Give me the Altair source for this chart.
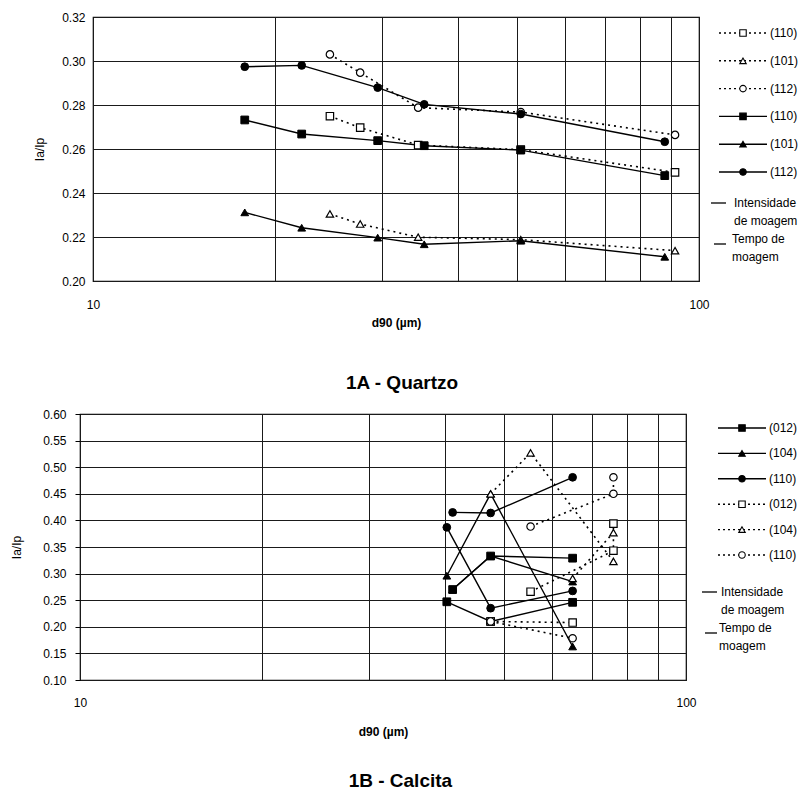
import altair as alt
import pandas as pd

# ---------------- 1A - Quartzo ----------------
hkl_quartzo = ["(110)", "(101)", "(112)"]

# Intensidade de moagem (linhas cheias)
d90_quartzo_int = [17.8, 22.1, 29.5, 35.2, 50.8, 87.8]
quartzo_int_110 = [0.2732, 0.2668, 0.2638, 0.2615, 0.2595, 0.2479]
quartzo_int_101 = [0.2312, 0.2242, 0.2197, 0.2167, 0.2183, 0.2110]
quartzo_int_112 = [0.2974, 0.2980, 0.2879, 0.2803, 0.2759, 0.2633]

# Tempo de moagem (linhas pontilhadas)
d90_quartzo_tempo = [24.6, 27.6, 34.4, 50.8, 91.3]
quartzo_tempo_110 = [0.2749, 0.2697, 0.2618, 0.2597, 0.2494]
quartzo_tempo_101 = [0.2305, 0.2259, 0.2199, 0.2188, 0.2138]
quartzo_tempo_112 = [0.3030, 0.2947, 0.2788, 0.2768, 0.2664]

ticks_y_quartzo = [0.20, 0.22, 0.24, 0.26, 0.28, 0.30, 0.32]

# ---------------- 1B - Calcita ----------------
hkl_calcita = ["(012)", "(104)", "(110)"]

calcita_int_012_a_d90 = [41.2, 47.6, 65.0]
calcita_int_012_a = [0.270, 0.333, 0.329]
calcita_int_012_b_d90 = [40.3, 47.6, 65.0]
calcita_int_012_b = [0.247, 0.210, 0.246]
calcita_int_104_a_d90 = [40.3, 47.6, 65.0]
calcita_int_104_a = [0.296, 0.450, 0.163]
calcita_int_104_b_d90 = [41.2, 47.6, 65.0]
calcita_int_104_b = [0.270, 0.333, 0.285]
calcita_int_110_a_d90 = [41.2, 47.6, 65.0]
calcita_int_110_a = [0.415, 0.414, 0.481]
calcita_int_110_b_d90 = [40.3, 47.6, 65.0]
calcita_int_110_b = [0.387, 0.235, 0.2675]

calcita_tempo_012_a_d90 = [47.6, 65.0]
calcita_tempo_012_a = [0.210, 0.208]
calcita_tempo_012_b_d90 = [55.4, 75.9, 75.9]
calcita_tempo_012_b = [0.266, 0.343, 0.394]
calcita_tempo_104_a_d90 = [47.6, 55.4, 75.9]
calcita_tempo_104_a = [0.450, 0.527, 0.323]
calcita_tempo_104_b_d90 = [65.0, 75.9]
calcita_tempo_104_b = [0.291, 0.377]
calcita_tempo_110_a_d90 = [55.4, 75.9, 75.9]
calcita_tempo_110_a = [0.3885, 0.450, 0.481]
calcita_tempo_110_b_d90 = [47.6, 65.0]
calcita_tempo_110_b = [0.210, 0.1785]

ticks_y_calcita = [0.10, 0.15, 0.20, 0.25, 0.30, 0.35, 0.40, 0.45, 0.50, 0.55, 0.60]
ticks_x = [10, 20, 30, 40, 50, 60, 70, 80, 90, 100]

# Legendas
legenda_quartzo_rotulos = ["(110)", "(101)", "(112)", "(110)", "(101)", "(112)"]
legenda_quartzo_tipos = ["tempo", "tempo", "tempo", "int", "int", "int"]
legenda_calcita_rotulos = ["(012)", "(104)", "(110)", "(012)", "(104)", "(110)"]
legenda_calcita_tipos = ["int", "int", "int", "tempo", "tempo", "tempo"]
nota_intensidade = "Intensidade\nde moagem"
nota_tempo = "Tempo de\nmoagem"

FONTE = "Liberation Sans"
FORMAS = ["square", "triangle-up", "circle"]


def serie(nome, hkl, forma, tipo, xs, ys):
    return [
        {"serie": nome, "hkl": hkl, "forma": forma, "tipo": tipo, "ordem": i,
         "d90": x, "razao": y}
        for i, (x, y) in enumerate(zip(xs, ys))
    ]


def tabela(hkl_dom, tipo, *series):
    linhas = []
    for nome, hkl, xs, ys in series:
        linhas += serie(nome, hkl, FORMAS[hkl_dom.index(hkl)], tipo, xs, ys)
    return pd.DataFrame(linhas)


quartzo_int = tabela(
    hkl_quartzo, "int",
    ("qi110", "(110)", d90_quartzo_int, quartzo_int_110),
    ("qi101", "(101)", d90_quartzo_int, quartzo_int_101),
    ("qi112", "(112)", d90_quartzo_int, quartzo_int_112),
)
quartzo_tempo = tabela(
    hkl_quartzo, "tempo",
    ("qt110", "(110)", d90_quartzo_tempo, quartzo_tempo_110),
    ("qt101", "(101)", d90_quartzo_tempo, quartzo_tempo_101),
    ("qt112", "(112)", d90_quartzo_tempo, quartzo_tempo_112),
)
calcita_int = tabela(
    hkl_calcita, "int",
    ("ci012a", "(012)", calcita_int_012_a_d90, calcita_int_012_a),
    ("ci012b", "(012)", calcita_int_012_b_d90, calcita_int_012_b),
    ("ci104a", "(104)", calcita_int_104_a_d90, calcita_int_104_a),
    ("ci104b", "(104)", calcita_int_104_b_d90, calcita_int_104_b),
    ("ci110a", "(110)", calcita_int_110_a_d90, calcita_int_110_a),
    ("ci110b", "(110)", calcita_int_110_b_d90, calcita_int_110_b),
)
calcita_tempo = tabela(
    hkl_calcita, "tempo",
    ("ct012a", "(012)", calcita_tempo_012_a_d90, calcita_tempo_012_a),
    ("ct012b", "(012)", calcita_tempo_012_b_d90, calcita_tempo_012_b),
    ("ct104a", "(104)", calcita_tempo_104_a_d90, calcita_tempo_104_a),
    ("ct104b", "(104)", calcita_tempo_104_b_d90, calcita_tempo_104_b),
    ("ct110a", "(110)", calcita_tempo_110_a_d90, calcita_tempo_110_a),
    ("ct110b", "(110)", calcita_tempo_110_b_d90, calcita_tempo_110_b),
)


def eixo_x(label_pad, title_pad):
    return alt.Axis(
        values=ticks_x, grid=True, ticks=False, domain=False,
        labelExpr="datum.value == 10 || datum.value == 100 ? datum.label : ''",
        format="d", labelPadding=label_pad, labelFlush=False,
        title="d90 (µm)", titlePadding=title_pad, titleFontWeight="bold",
    )


def eixo_y(valores, tick, label_pad, title_pad):
    return alt.Axis(
        values=valores, grid=True, ticks=tick, tickSize=5, tickColor="black",
        domain=False, format=".2f", labelPadding=label_pad,
        title="Ia/Ip", titlePadding=title_pad, titleFontWeight="normal",
    )


def painel(dados_cheio, dados_vazio, ydom, yvals, tick, lpad, tpad,
           xlpad, xtpad, altura, cheios_por_cima):
    x = alt.X("d90:Q", scale=alt.Scale(type="log", domain=[10, 100], nice=False),
              axis=eixo_x(xlpad, xtpad))
    y = alt.Y("razao:Q", scale=alt.Scale(domain=ydom, nice=False, zero=False),
              axis=eixo_y(yvals, tick, lpad, tpad))
    forma = alt.Shape("forma:N", scale=None)

    linha_cheia = alt.Chart(dados_cheio).mark_line(color="black", strokeWidth=1.4).encode(
        x=x, y=y, detail="serie:N", order="ordem:Q")
    linha_pont = alt.Chart(dados_vazio).mark_line(
        color="black", strokeWidth=1.6, strokeDash=[2, 4]).encode(
        x=x, y=y, detail="serie:N", order="ordem:Q")
    pts_cheio = alt.Chart(dados_cheio).mark_point(
        filled=True, fill="black", stroke="black", strokeWidth=1, size=60, opacity=1
    ).encode(x=x, y=y, shape=forma)
    pts_vazio = alt.Chart(dados_vazio).mark_point(
        filled=True, fill="white", stroke="black", strokeWidth=1.2, size=55, opacity=1
    ).encode(x=x, y=y, shape=forma)

    if cheios_por_cima:
        camadas = [linha_pont, linha_cheia, pts_vazio, pts_cheio]
    else:
        camadas = [linha_cheia, linha_pont, pts_cheio, pts_vazio]
    return alt.layer(*camadas).properties(
        width=606, height=altura,
        view=alt.ViewBackground(stroke="black", strokeWidth=1.2),
    )


def legenda(rotulos, tipos, y0, passo, x_linha, x_nota, x_texto_nota,
            y_int, y_tempo, altura):
    n = len(rotulos)
    df = pd.DataFrame({
        "id": list(range(n)), "rotulo": rotulos, "tipo": tipos,
        "forma": [FORMAS[i % 3] for i in range(n)],
        "cor": ["black" if t == "int" else "white" for t in tipos],
    })
    ypos = alt.Y("id:Q", scale=alt.Scale(domain=[0, n - 1],
                                         range=[y0, y0 + passo * (n - 1)]), axis=None)
    traco = alt.StrokeDash("tipo:N", scale=alt.Scale(domain=["int", "tempo"],
                                                     range=[[1, 0], [2, 3]]), legend=None)
    base = alt.Chart(df)
    linhas = base.mark_rule(color="black", strokeWidth=1.4).encode(
        x=alt.value(x_linha), x2=alt.value(x_linha + 48), y=ypos, strokeDash=traco)
    pts = base.mark_point(filled=True, stroke="black", strokeWidth=1.1, size=42,
                          opacity=1).encode(
        x=alt.value(x_linha + 24), y=ypos, shape=alt.Shape("forma:N", scale=None),
        fill=alt.Fill("cor:N", scale=None))
    textos = base.mark_text(align="left", baseline="middle", fontSize=12,
                            font=FONTE).encode(
        x=alt.value(x_linha + 51), y=ypos, text="rotulo:N")

    notas = pd.DataFrame({"nota": [nota_intensidade, nota_tempo]})
    txt_int = alt.Chart(notas).transform_filter(
        alt.datum.nota == nota_intensidade).mark_text(
        align="left", baseline="middle", fontSize=12, font=FONTE, lineBreak="\n",
        lineHeight=18).encode(
        x=alt.value(x_texto_nota), y=alt.value(y_int), text="nota:N")
    txt_tempo = alt.Chart(notas).transform_filter(
        alt.datum.nota == nota_tempo).mark_text(
        align="left", baseline="middle", fontSize=12, font=FONTE, lineBreak="\n",
        lineHeight=18).encode(
        x=alt.value(x_texto_nota - 2), y=alt.value(y_tempo), text="nota:N")
    traco_int = alt.Chart(notas).transform_filter(
        alt.datum.nota == nota_intensidade).mark_rule(
        color="black", strokeWidth=1.3).encode(
        x=alt.value(x_nota), x2=alt.value(x_nota + 15), y=alt.value(y_int))
    traco_tempo = alt.Chart(notas).transform_filter(
        alt.datum.nota == nota_tempo).mark_rule(
        color="black", strokeWidth=1.3).encode(
        x=alt.value(x_nota + 3), x2=alt.value(x_nota + 15), y=alt.value(y_tempo + 5))
    return alt.layer(linhas, pts, textos, txt_int, txt_tempo, traco_int,
                     traco_tempo).properties(width=80, height=altura)


painel_a = painel(quartzo_int, quartzo_tempo, [0.20, 0.32], ticks_y_quartzo,
                  False, 8, 15, 18, 7, 264, True)
painel_b = painel(calcita_int, calcita_tempo, [0.10, 0.60], ticks_y_calcita,
                  True, 9, 19, 17, 18, 266, False)

leg_a = legenda(legenda_quartzo_rotulos, legenda_quartzo_tipos,
                16, 27.8, 3, -5, 18, 186, 222, 264)
leg_b = legenda(legenda_calcita_rotulos, legenda_calcita_tipos,
                14, 25.4, 21, 5, 24, 178, 214, 266)


def espaco(largura):
    return alt.Chart(pd.DataFrame({"v": [0]})).mark_point(opacity=0).properties(
        width=largura, height=10)


linha_a = alt.hconcat(espaco(27), painel_a, leg_a, spacing=0).properties(
    title=alt.TitleParams("1A - Quartzo", orient="bottom", offset=45, fontSize=19,
                          fontWeight="bold", font=FONTE, anchor="middle"))
linha_b = alt.hconcat(espaco(1), painel_b, leg_b, spacing=0).properties(
    title=alt.TitleParams("1B - Calcita", orient="bottom", offset=34, fontSize=19,
                          fontWeight="bold", font=FONTE, anchor="middle"))

chart = alt.vconcat(linha_a, linha_b, spacing=14).properties(
    padding={"left": 3, "top": 10, "right": 0, "bottom": 0},
    background="white",
).configure_view(stroke=None).configure_axis(
    labelFont=FONTE, titleFont=FONTE, labelFontSize=12, titleFontSize=12,
    labelColor="black", titleColor="black", gridColor="#1a1a1a", gridWidth=1,
    gridOpacity=1,
)

chart.save("out.html", embed_options={"renderer": "svg", "actions": False})
